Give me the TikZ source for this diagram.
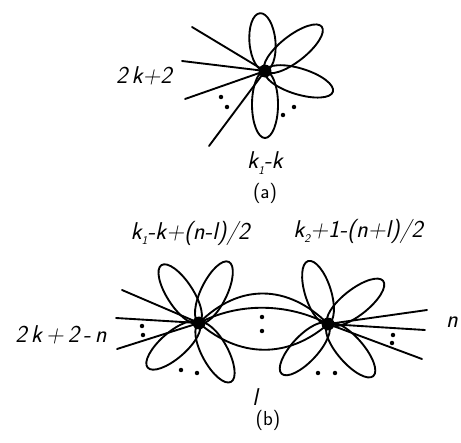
\documentclass[tikz,border=0pt]{standalone}
\usetikzlibrary{calc}

\newcommand\petal[3]{% vertex, angle, length
  \draw[petal] (#1) ++(#2:#3/2) ellipse [x radius=#3/2, y radius=13, rotate=#2];}
\newcommand\sub[1]{\raisebox{-0.55ex}{\normalsize #1}}

\begin{document}
\begin{tikzpicture}[x=0.03cm,y=0.03cm,line cap=round,line join=round,
  petal/.style={line width=1.6pt},
  leg/.style={line width=1.6pt},
  vtx/.style={fill=black},
  lab/.style={font=\huge\sffamily\itshape}]
  \useasboundingbox (0,0) rectangle (461,442);
  % (a)
  \coordinate (A) at (265,371);
  \petal{A}{95}{58}
  \petal{A}{38}{72}
  \petal{A}{-17}{71}
  \petal{A}{-90}{67}
  \coordinate (a1) at (192,415);
  \coordinate (a2) at (182,381);
  \coordinate (a3) at (185,343);
  \coordinate (a4) at (209,296);
  \foreach \p in {a1,a2,a3,a4} \draw[leg] (A) -- (\p);
  \fill[vtx] (A) circle (5.5pt);
  \foreach \d in {(221,345),(227,335),(294,335),(283,327)} \fill \d circle (1.9pt);
  \node[lab] (legsA) at (144,366) {2\,k+2};
  \node[lab] (loopsA) at (265,279) {k\sub{1}-k};
  \node[lab] (capA) at (265,249) {\upshape\LARGE (a)};
  % (b)
  \coordinate (L) at (199,119);
  \coordinate (R) at (328,118);
  \petal{L}{123}{69}
  \petal{L}{64}{68}
  \petal{L}{221}{68}
  \petal{L}{-61.5}{67}
  \petal{R}{107.6}{66}
  \petal{R}{38}{70}
  \petal{R}{227}{68}
  \petal{R}{-49}{69}
  \coordinate (l1) at (122,152);
  \coordinate (l2) at (116,124);
  \coordinate (l3) at (117,93);
  \coordinate (r1) at (427,132);
  \coordinate (r2) at (425,112);
  \coordinate (r3) at (422,83);
  \foreach \p in {l1,l2,l3} \draw[leg] (L) -- (\p);
  \foreach \p in {r1,r2,r3} \draw[leg] (R) -- (\p);
  \draw[leg] (L) .. controls ($(L)+(40,40)$) and ($(R)+(-40,40)$) .. (R);
  \draw[leg] (L) .. controls ($(L)+(40,21)$) and ($(R)+(-40,21)$) .. (R);
  \draw[leg] (L) .. controls ($(L)+(40,-35)$) and ($(R)+(-40,-35)$) .. (R);
  \fill[vtx] (L) circle (5.5pt);
  \fill[vtx] (R) circle (5.5pt);
  \foreach \d in {(142,116),(143,107),(181,72),(197,69),(262,125),(262,111),
    (393,107),(392,99),(318,69),(335,69)} \fill \d circle (1.9pt);
  \node[lab] (legsL) at (61,107) {2\,k\,+\,2\,-\,n};
  \node[lab] (loopsL) at (190,209) {k\sub{1}-k+(n-l)/2};
  \node[lab] (loopsR) at (358,211) {k\sub{2}+1-(n+l)/2};
  \node[lab] (legsR) at (452,120) {n};
  \node[lab] (edgesM) at (255,45) {l};
  \node[lab] (capB) at (268,22) {\upshape\LARGE (b)};
\end{tikzpicture}
\end{document}
